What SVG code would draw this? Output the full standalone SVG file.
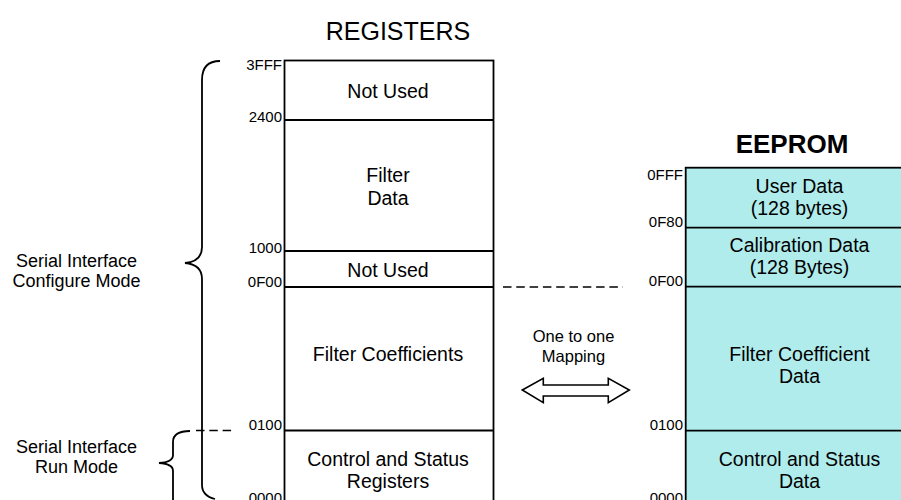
<svg xmlns="http://www.w3.org/2000/svg" width="901" height="500" viewBox="0 0 901 500">
<style>
text{font-family:"Liberation Sans",Arial,sans-serif;fill:#000}
.lbl{font-size:19.5px;text-anchor:middle}
.addr{font-size:15px;text-anchor:end}
.side{font-size:18px;text-anchor:middle}
.box{fill:#fff;stroke:#000;stroke-width:1.8}
.ebox{fill:#B0ECEC;stroke:#000;stroke-width:1.8}
.ln{stroke:#000;stroke-width:1.8;fill:none}
.dash{stroke:#000;stroke-width:1.5;stroke-dasharray:8.5 4.8;fill:none}
.brace{stroke:#000;stroke-width:1.8;fill:none}
</style>
<rect width="901" height="500" fill="#fff"/>
<text x="398" y="40" style="font-size:25px;text-anchor:middle">REGISTERS</text>
<text x="792" y="153" style="font-size:26px;font-weight:bold;text-anchor:middle">EEPROM</text>

<g id="registers">
<rect class="box" x="284.5" y="60.5" width="209" height="460"/>
<line class="ln" x1="284.5" y1="120" x2="493.5" y2="120"/>
<line class="ln" x1="284.5" y1="251" x2="493.5" y2="251"/>
<line class="ln" x1="284.5" y1="287" x2="493.5" y2="287"/>
<line class="ln" x1="284.5" y1="430.5" x2="493.5" y2="430.5"/>
</g>
<g id="reg-notused-top"><text class="lbl" x="388" y="98">Not Used</text></g>
<g id="reg-filterdata"><text class="lbl" x="388" y="181.5">Filter</text><text class="lbl" x="388" y="205">Data</text></g>
<g id="reg-notused-mid"><text class="lbl" x="388" y="276.5">Not Used</text></g>
<g id="reg-coeff"><text class="lbl" x="388" y="361">Filter Coefficients</text></g>
<g id="reg-ctrl"><text class="lbl" x="388" y="466">Control and Status</text><text class="lbl" x="388" y="487.5">Registers</text></g>
<g id="reg-addr">
<text class="addr" x="282" y="69.5">3FFF</text>
<text class="addr" x="282" y="121.5">2400</text>
<text class="addr" x="282" y="252.5">1000</text>
<text class="addr" x="282" y="286.5">0F00</text>
<text class="addr" x="282" y="430">0100</text>
<text class="addr" x="282" y="503">0000</text>
</g>

<g id="eeprom">
<rect class="ebox" x="685.7" y="167.7" width="240" height="360"/>
<line class="ln" x1="685.7" y1="227.7" x2="901" y2="227.7"/>
<line class="ln" x1="685.7" y1="286.7" x2="901" y2="286.7"/>
<line class="ln" x1="685.7" y1="430.7" x2="901" y2="430.7"/>
</g>
<g id="ee-user"><text class="lbl" x="799.5" y="193">User Data</text><text class="lbl" x="799.5" y="215">(128 bytes)</text></g>
<g id="ee-cal"><text class="lbl" x="799.5" y="251.5">Calibration Data</text><text class="lbl" x="799.5" y="274">(128 Bytes)</text></g>
<g id="ee-coeff"><text class="lbl" x="799.5" y="361">Filter Coefficient</text><text class="lbl" x="799.5" y="383.3">Data</text></g>
<g id="ee-ctrl"><text class="lbl" x="799.5" y="465.7">Control and Status</text><text class="lbl" x="799.5" y="488">Data</text></g>
<g id="ee-addr">
<text class="addr" x="683" y="180">0FFF</text>
<text class="addr" x="683" y="226.5">0F80</text>
<text class="addr" x="683" y="285.5">0F00</text>
<text class="addr" x="683" y="430">0100</text>
<text class="addr" x="683" y="503">0000</text>
</g>

<g id="configure-label"><text class="side" x="76.5" y="266.5">Serial Interface</text><text class="side" x="76.5" y="286.5">Configure Mode</text></g>
<g id="run-label"><text class="side" x="76.5" y="452.5">Serial Interface</text><text class="side" x="76.5" y="473.3">Run Mode</text></g>
<g id="mapping"><text x="573.5" y="341.7" style="font-size:16.5px;text-anchor:middle">One to one</text><text x="573.5" y="361.7" style="font-size:16.5px;text-anchor:middle">Mapping</text>
<path d="M522.3 390 L543.3 378.3 L543.3 385 L608.3 385 L608.3 378.3 L629.3 390 L608.3 402.7 L608.3 396 L543.3 396 L543.3 402.7 Z" fill="#fff" stroke="#000" stroke-width="1.6" stroke-linejoin="miter"/>
</g>

<g id="connectors">
<path class="brace" d="M220 61 C208 61,202 68,202 80 L202 247 C202 257,196 262,185 263 C196 264,202 269,202 279 L202 485 C202 493,207 497,215 499"/>
<path class="brace" d="M190 431 C180 431,173 434,173 442 L173 455 C173 460,168 462.5,159 463 C168 463.5,173 466,173 471 L173 505"/>
<line class="dash" x1="196" y1="430.5" x2="233" y2="430.5"/>
<line class="dash" x1="503" y1="287" x2="623" y2="287"/>
</g>
</svg>
